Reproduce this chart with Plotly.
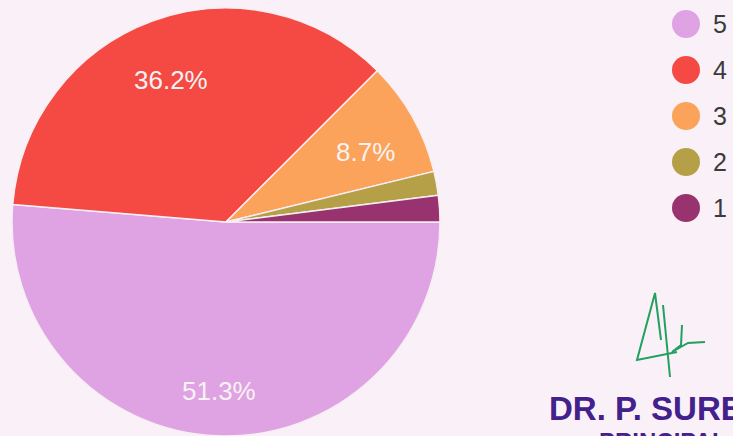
import math
import plotly.graph_objects as go

# ---- data ----
ratings = ["5", "4", "3", "2", "1"]
shares = [51.3, 36.2, 8.7, 1.8, 2.0]
colors = ["#dfa2e3", "#f44a43", "#fba35a", "#b5a048", "#98336f"]

W, H = 733, 436
BG = "#f9f1f7"
FONT = "Liberation Sans, Arial, sans-serif"
cx, cy, R = 226, 222, 214  # pie centre / radius in px

fig = go.Figure()
fig.add_trace(go.Pie(
    labels=ratings, values=shares, sort=False, direction="clockwise", rotation=90,
    marker=dict(colors=colors, line=dict(color="#f7eef4", width=1.5)),
    textinfo="none", showlegend=False, hoverinfo="label+percent",
    domain=dict(x=[(cx - R) / W, (cx + R) / W], y=[1 - (cy + R) / H, 1 - (cy - R) / H]),
))

# slice percentage labels
total = sum(shares)
start = 90.0
for lab, v in zip(ratings, shares):
    ang = 360.0 * v / total
    mid = math.radians(start + ang / 2)
    if v / total > 0.05:
        px = cx + 0.75 * R * math.sin(mid)
        py = cy - 0.75 * R * math.cos(mid)
        fig.add_annotation(x=px / W, y=1 - py / H, xref="paper", yref="paper",
                           xanchor="center", yanchor="middle", yshift=-9,
                           text=f"{v / total * 100:.1f}%", showarrow=False,
                           font=dict(size=26, color="#f8f2f4", family=FONT))
    start += ang

# legend with circular swatches
lx, ly0, lstep, lr = 686, 24, 46, 14
for i, (lab, col) in enumerate(zip(ratings, colors)):
    yc = ly0 + i * lstep
    fig.add_shape(type="circle", xref="paper", yref="paper",
                  x0=(lx - lr) / W, x1=(lx + lr) / W,
                  y0=1 - (yc + lr) / H, y1=1 - (yc - lr) / H,
                  fillcolor=col, line=dict(width=0))
    fig.add_annotation(x=711 / W, y=1 - yc / H, xref="paper", yref="paper",
                       text=lab, showarrow=False, xanchor="left", yanchor="middle",
                       font=dict(size=25, color="#3a3a3a", family=FONT))

# stamp text and signature
fig.add_annotation(x=547 / W, y=1 - 408 / H, xref="paper", yref="paper",
                   text="<b>DR. P. SURE</b>", showarrow=False, xanchor="left", yanchor="middle",
                   font=dict(size=33, color="#44208c", family=FONT))
fig.add_annotation(x=597 / W, y=1 - 426 / H, xref="paper", yref="paper",
                   text="<b>PRINCIPAL</b>", showarrow=False, xanchor="left", yanchor="top",
                   font=dict(size=24, color="#44208c", family=FONT))

sig = [(661, 340), (655, 293), (637, 360), (677, 352)]
sig3 = [(663, 305), (670, 377)]
sig4 = [(682, 325), (681, 345), (672, 352), (688, 343), (705, 342)]
for stroke in (sig, sig3, sig4):
    path = "M " + " L ".join(f"{x / W},{1 - y / H}" for x, y in stroke)
    fig.add_shape(type="path", xref="paper", yref="paper", path=path,
                  line=dict(color="#22a060", width=2))

fig.update_layout(width=W, height=H, margin=dict(l=0, r=0, t=0, b=0),
                  paper_bgcolor=BG, plot_bgcolor=BG, font=dict(family=FONT))
fig.write_html("out.html", config={"displayModeBar": False},
               post_script="document.body.style.margin='0';document.body.style.overflow='hidden';")
